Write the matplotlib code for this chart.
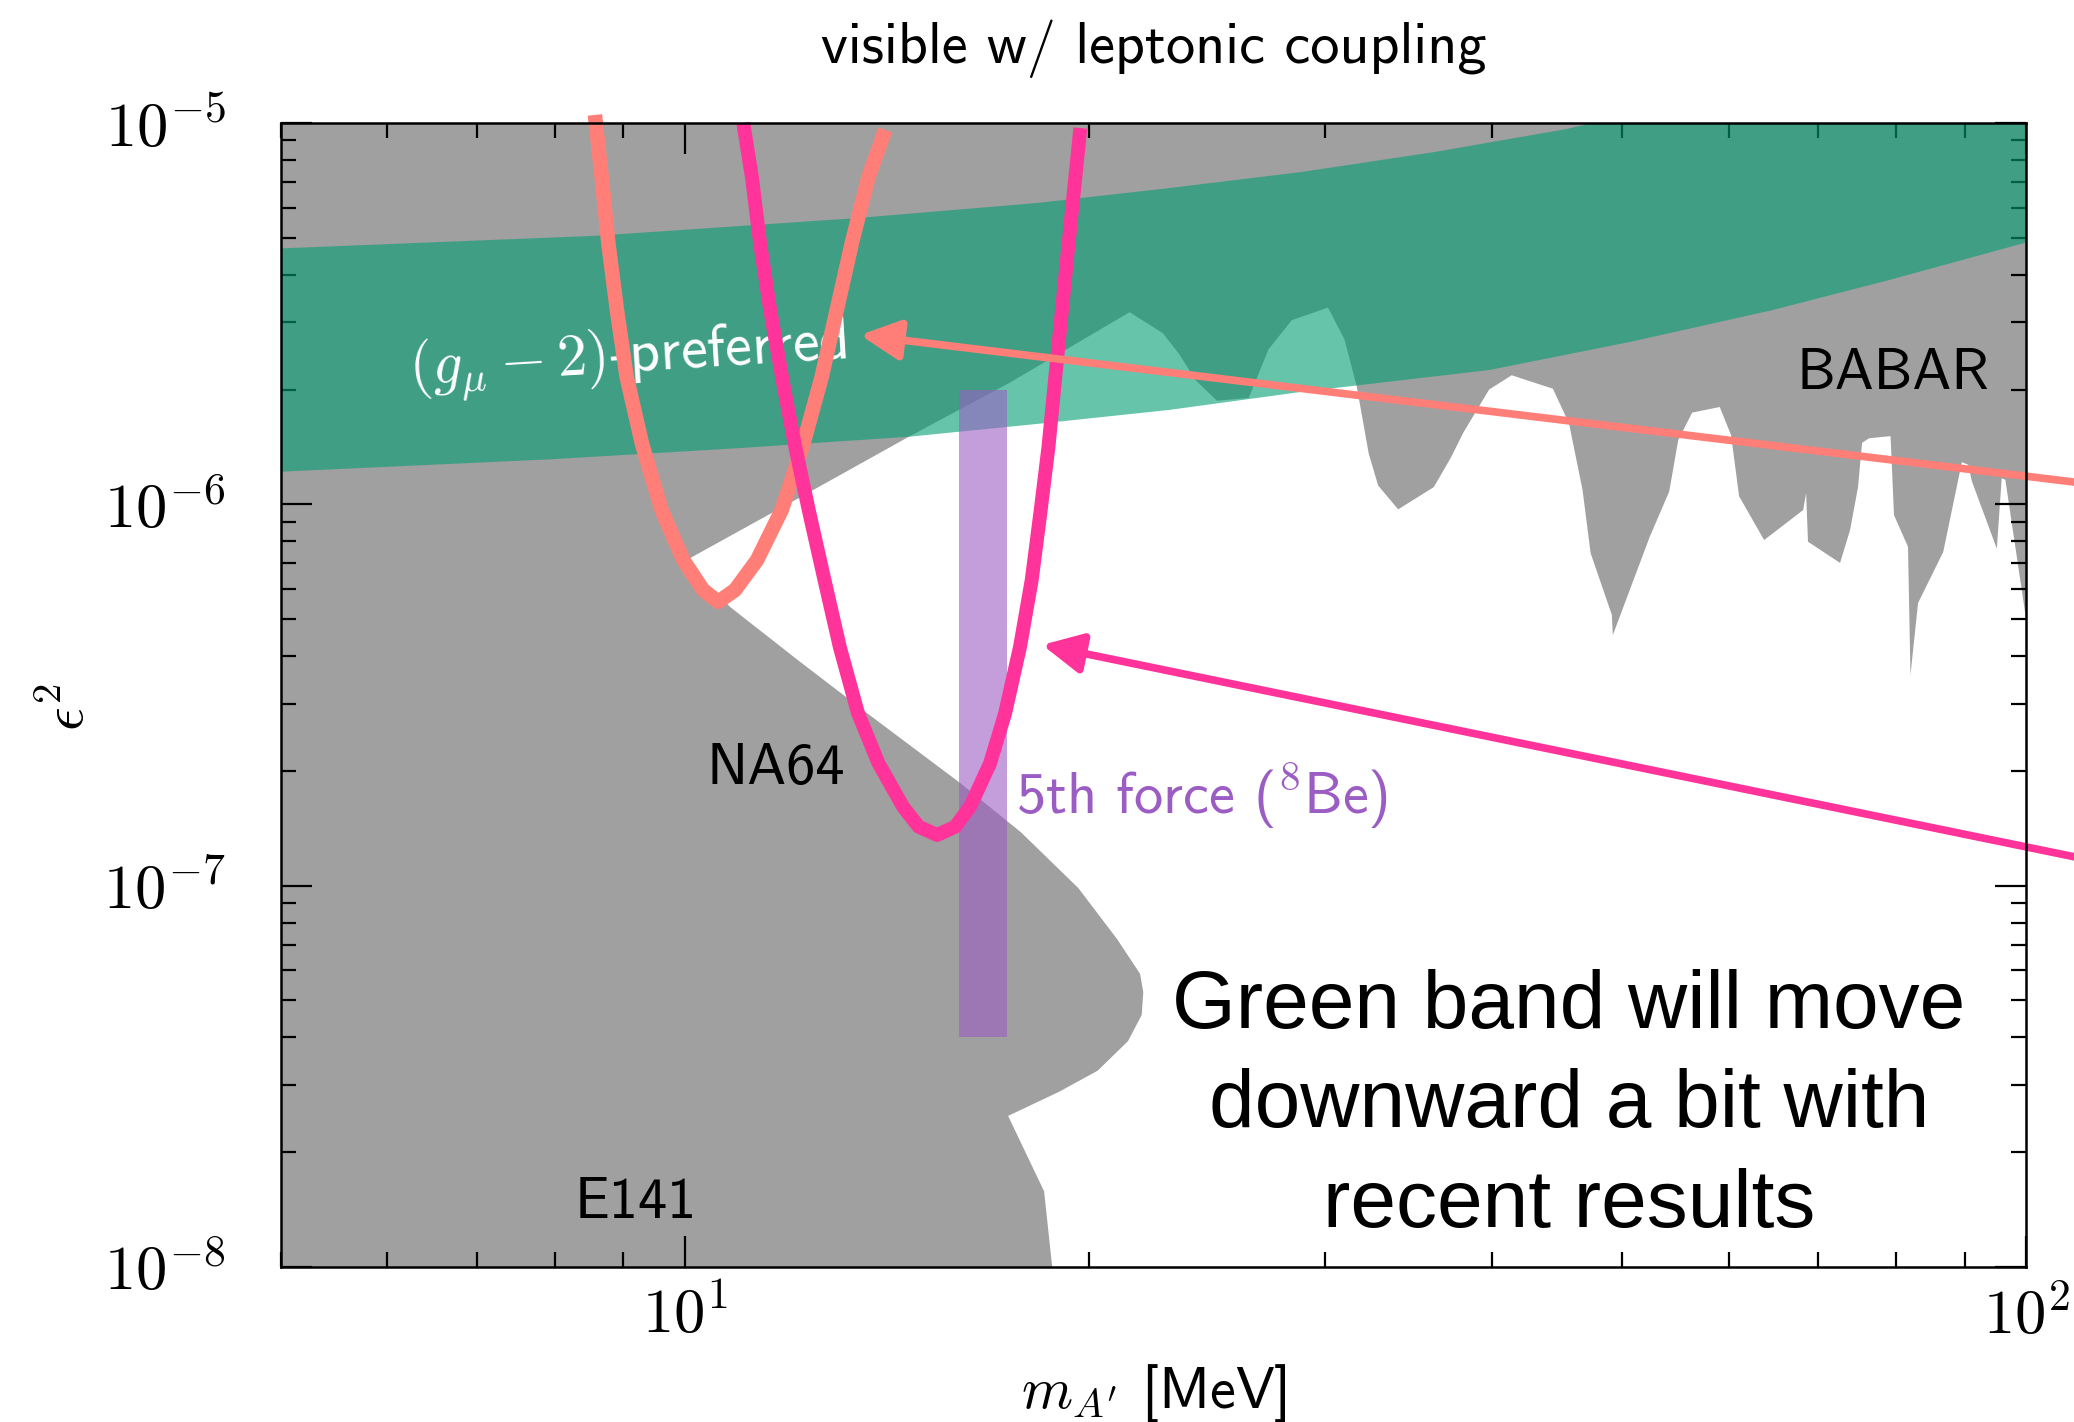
import numpy as np
import matplotlib
matplotlib.use('Agg')
import matplotlib.pyplot as plt
from matplotlib import ticker

plt.rcParams['font.family'] = ['cmss10', 'DejaVu Sans']
plt.rcParams['mathtext.fontset'] = 'cm'
plt.rcParams['axes.unicode_minus'] = False

# allowed (white) window: upper edge (fixed target / BABAR), from the tip at ~10 MeV up to 100 MeV
upper_m = [10.0, 12.17, 14.67, 17.45, 21.46, 22.72, 23.36, 24.05, 24.93, 26.33, 27.24, 28.35,
           30.17, 31.04, 31.70, 32.35, 32.88, 34.03, 36.18, 37.27, 38.05, 39.78, 41.35, 44.38,
           45.63, 46.70, 47.35, 49.11, 49.19, 52.41, 54.19, 55.04, 56.37, 59.10, 60.26, 61.10,
           63.78, 68.20, 68.55, 68.77, 72.66, 73.92, 74.94, 75.46, 76.37, 79.24, 79.71, 81.65,
           82.0, 83.07, 86.74, 89.56, 90.54, 91.11, 95.1, 95.9, 96.5, 100.0]
upper_eps2 = [7.1e-7, 1.04e-6, 1.50e-6, 2.08e-6, 3.19e-6, 2.81e-6, 2.48e-6, 2.11e-6, 1.87e-6,
              1.90e-6, 2.55e-6, 3.04e-6, 3.28e-6, 2.70e-6, 2.03e-6, 1.36e-6, 1.12e-6, 9.7e-7,
              1.11e-6, 1.33e-6, 1.54e-6, 2.0e-6, 2.18e-6, 2.01e-6, 1.63e-6, 1.09e-6, 7.45e-7,
              5.13e-7, 4.54e-7, 8.22e-7, 1.08e-6, 1.475e-6, 1.74e-6, 1.80e-6, 1.52e-6, 1.05e-6,
              8.06e-7, 9.66e-7, 1.07e-6, 7.98e-7, 7.02e-7, 8.56e-7, 1.11e-6, 1.45e-6, 1.49e-6,
              1.51e-6, 9.37e-7, 7.74e-7, 3.57e-7, 5.51e-7, 7.50e-7, 1.29e-6, 1.27e-6, 1.15e-6,
              7.65e-7, 1.17e-6, 1.16e-6, 5.0e-7]

# lower edge (NA64 / E141), from the tip downwards
lower_m = [10.0, 10.81, 12.17, 13.70, 16.04, 17.81, 19.65, 21.0, 21.85, 21.97, 21.91, 21.4,
           20.31, 19.01, 17.42, 18.53, 18.79]
lower_eps2 = [7.1e-7, 5.38e-7, 3.88e-7, 2.82e-7, 1.86e-7, 1.38e-7, 9.86e-8, 7.25e-8, 5.87e-8,
              5.26e-8, 4.58e-8, 3.91e-8, 3.27e-8, 2.88e-8, 2.49e-8, 1.58e-8, 1.0e-8]

# (g-2)_mu preferred band
gm2_lo_m = [5.0, 7.93, 11.01, 14.72, 18.31, 22.96, 28.76, 39.78, 50.76, 64.67, 79.17, 100.0]
gm2_lo = [1.218e-6, 1.312e-6, 1.405e-6, 1.505e-6, 1.625e-6, 1.768e-6, 1.97e-6, 2.25e-6,
          2.67e-6, 3.23e-6, 3.88e-6, 4.86e-6]
gm2_hi_m = [5.0, 8.57, 13.42, 18.31, 22.96, 28.83, 36.2, 45.4, 57.1, 100.0]
gm2_hi = [4.69e-6, 5.06e-6, 5.63e-6, 6.17e-6, 6.75e-6, 7.44e-6, 8.39e-6, 9.64e-6, 1.16e-5, 1.86e-5]

# 8Be anomaly box
be8_m = [16.0, 17.4]
be8_eps2 = [4e-8, 2e-6]

# projected reach curves
salmon_m = [8.57, 8.67, 8.77, 8.90, 9.05, 9.29, 9.61, 9.975, 10.32, 10.59, 10.90, 11.32,
            11.81, 12.26, 12.65, 12.98, 13.32, 13.71, 14.11]
salmon_eps2 = [1.05e-5, 7.23e-6, 4.84e-6, 3.23e-6, 2.16e-6, 1.445e-6, 9.66e-7, 7.14e-7,
               5.96e-7, 5.55e-7, 5.96e-7, 7.14e-7, 9.66e-7, 1.445e-6, 2.16e-6, 3.23e-6,
               4.84e-6, 7.23e-6, 9.59e-6]
pink_m = [11.056, 11.22, 11.38, 11.58, 11.82, 12.08, 12.38, 12.70, 13.05, 13.46, 13.94, 14.55,
          14.94, 15.42, 15.91, 16.32, 16.89, 17.33, 17.78, 18.14, 18.41, 18.67, 18.88, 19.29,
          19.72]
pink_eps2 = [1.0e-5, 7.23e-6, 4.84e-6, 3.23e-6, 2.145e-6, 1.431e-6, 9.55e-7, 6.41e-7, 4.22e-7,
             2.84e-7, 2.10e-7, 1.608e-7, 1.428e-7, 1.358e-7, 1.428e-7, 1.611e-7, 2.094e-7,
             2.83e-7, 4.23e-7, 6.33e-7, 9.47e-7, 1.416e-6, 2.118e-6, 4.53e-6, 9.70e-6]

# arrows: (tip, tail)
salmon_arrow = [(13.51, 2.78e-6), (160.0, 9.7e-7)]
pink_arrow = [(18.47, 4.28e-7), (160.0, 9.0e-8)]

gray = '#a0a0a0'
teal = '#009E73'
purple = '#9b5dc3'
salmon = '#ff7f78'
pink = '#ff3399'

fig = plt.figure(figsize=(20.74, 14.22), dpi=100)
ax = fig.add_axes([0.1355, 0.109, 0.8414, 0.8045])
ax.set_facecolor(gray)
ax.set_xscale('log')
ax.set_yscale('log')
ax.set_xlim(5, 100)
ax.set_ylim(1e-8, 1e-5)

# white allowed region
poly_m = upper_m + [100.0] + lower_m[::-1]
poly_e = upper_eps2 + [1e-8] + lower_eps2[::-1]
ax.fill(poly_m, poly_e, color='white', lw=0, zorder=1)

# g-2 band
ax.fill(gm2_lo_m + gm2_hi_m[::-1], gm2_lo + gm2_hi[::-1], color=teal, alpha=0.6, lw=0, zorder=2)

# 8Be box
ax.fill_between(be8_m, be8_eps2[0], be8_eps2[1], color=purple, alpha=0.6, lw=0, zorder=3)

# labels
ax.text(11.68, 2.02e-7, 'NA64', fontsize=42, ha='center', va='center', zorder=4)
ax.text(9.20, 1.475e-8, 'E141', fontsize=42, ha='center', va='center', zorder=4)
ax.text(79.6, 2.20e-6, 'BABAR', fontsize=42, ha='center', va='center', zorder=4)
ax.text(17.66, 1.55e-7, r'5th force ($^{\mathsf{8}}$Be)', fontsize=42, color=purple,
        ha='left', va='baseline', zorder=4)
ax.text(9.07, 2.4e-6, r'$(g_\mu - 2)$-preferred', fontsize=43, color='white', rotation=3.5,
        ha='center', va='center', rotation_mode='anchor', zorder=4)

# curves
ax.plot(salmon_m, salmon_eps2, color=salmon, lw=10.5, solid_capstyle='butt',
        solid_joinstyle='round', clip_on=False, zorder=5)
ax.plot(pink_m, pink_eps2, color=pink, lw=10, solid_capstyle='butt',
        solid_joinstyle='round', clip_on=False, zorder=5)

# arrows
for (tip, tail), c in [(salmon_arrow, salmon), (pink_arrow, pink)]:
    ax.annotate('', xy=tip, xytext=tail, annotation_clip=False, zorder=6,
                arrowprops=dict(arrowstyle='-|>', color=c, lw=5.5, mutation_scale=60,
                                shrinkA=0, shrinkB=0))

ax.text(45.63, 2.64e-8, 'Green band will move\ndownward a bit with\nrecent results',
        fontsize=59, family='Liberation Sans', ha='center', va='center', multialignment='center',
        linespacing=1.4, zorder=7)

# axes styling
for s in ax.spines.values():
    s.set_linewidth(1.8)
    s.set_zorder(8)
ax.tick_params(which='both', direction='in', top=True, right=True, width=1.6)
ax.tick_params(which='major', length=22)
ax.tick_params(which='minor', length=11)
ax.tick_params(axis='x', which='major', pad=14, labelsize=45)
ax.tick_params(axis='y', which='major', pad=40, labelsize=45)
fmt = ticker.FuncFormatter(lambda v, p: r'$10^{%d}$' % round(np.log10(v)))
ax.xaxis.set_major_formatter(fmt)
ax.yaxis.set_major_formatter(fmt)
ax.xaxis.set_minor_formatter(ticker.NullFormatter())
ax.yaxis.set_minor_formatter(ticker.NullFormatter())

ax.set_xlabel(r"$m_{A'}$ [MeV]", fontsize=42)
ax.set_ylabel(r'$\epsilon^2$', fontsize=42)
ax.xaxis.set_label_coords(0.5, -0.083)
ax.yaxis.set_label_coords(-0.1066, 0.489)
ax.set_title('visible w/ leptonic coupling', fontsize=42, pad=43)

fig.savefig('out.png', dpi=100)
